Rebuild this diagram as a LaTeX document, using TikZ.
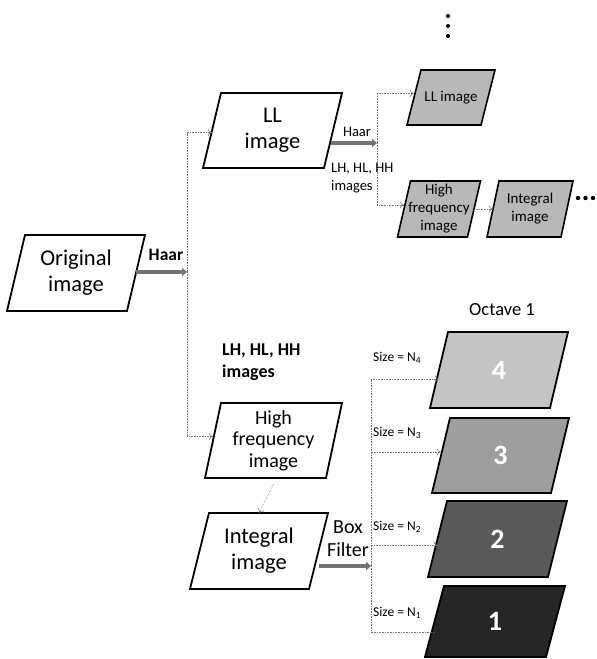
\documentclass[tikz,border=0pt]{standalone}
\usepackage{fontspec}
\setmainfont{Carlito}
\usetikzlibrary{arrows.meta}
% #1 outline options, #2 text options, #3 name, #4 x, #5 y, #6 total width, #7 height, #8 slant, #9 text
\newcommand{\pbox}[9]{%
  \path[pline,#1] ({#4-#6/2+#8},{#5-#7/2}) -- ({#4+#6/2},{#5-#7/2})
     -- ({#4+#6/2-#8},{#5+#7/2}) -- ({#4-#6/2},{#5+#7/2}) -- cycle;
  \node[ptext,minimum width={(#6-#8)*1pt},minimum height={#7*1pt},#2] (#3) at (#4,#5) {#9};
}
\begin{document}
\begin{tikzpicture}[x=1pt,y=-1pt,
  pline/.style={draw=black, line width=1.8pt, line join=miter},
  ptext/.style={rectangle, inner sep=0pt, align=center, font=\fontsize{22.5}{26}\selectfont},
  sline/.style={line width=1.6pt, fill=black!28},
  stext/.style={font=\fontsize{15}{18}\selectfont},
  otext/.style={text=white, font=\bfseries\fontsize{28}{30}\selectfont},
  conn/.style={draw=black!55, line width=0.6pt, densely dotted, -{To[length=4pt,width=7pt]}},
  connline/.style={draw=black!55, line width=0.6pt, densely dotted},
  thickarr/.style={draw=black!55, line width=4.5pt, -{Triangle[length=5pt,width=8pt]}},
  lbl/.style={inner sep=0pt, align=left, anchor=west},
  sizelbl/.style={inner sep=0pt, anchor=west, font=\fontsize{13.5}{15}\selectfont}
]
\useasboundingbox (0,0) rectangle (597,659);

% big parallelograms
\pbox{}{}{orig}{76}{273}{138}{76}{18}{Original\\image}
\pbox{}{}{ll}{272.5}{130.5}{139}{75}{18}{LL\\image}
\pbox{}{font=\fontsize{20}{21.5}\selectfont}{hf}{273.5}{440.5}{137}{75}{16}{High\\frequency\\image}
\pbox{}{}{int}{259}{551}{138}{76}{19}{Integral\\image}

% small parallelograms
\pbox{sline}{stext}{lls}{451}{97.5}{88}{55}{14}{LL image}
\pbox{sline}{stext}{hfs}{439}{209}{83}{56}{13}{High\\frequency\\image}
\pbox{sline}{stext}{ints}{530}{209}{86}{56}{12}{Integral\\image}

% octaves
\pbox{fill=black!23}{otext}{o4}{499}{370}{138}{76}{18}{4}
\pbox{fill=black!38}{otext}{o3}{500.5}{455.5}{137}{75}{18}{3}
\pbox{fill=black!65}{otext}{o2}{497.5}{539}{139}{76}{19}{2}
\pbox{fill=black!85}{otext}{o1}{495}{621.5}{140}{71}{19}{1}

% junctions
\coordinate (j1) at (187,272);
\coordinate (j2) at (377,143);
\coordinate (j3) at (371,566);

% connectors
\draw[thickarr] (orig.east |- j1) -- (j1);
\draw[conn] (j1) |- ([yshift=-2pt]ll.west);
\draw[conn] (j1) |- ([yshift=4pt]hf.west);

\draw[thickarr] ([xshift=-2pt]ll.east |- j2) -- (j2);
\draw[conn] (j2) |- ([yshift=4pt]lls.west);
\draw[conn] (j2) |- ([yshift=4pt]hfs.west);
\draw[conn] (hfs) -- (ints);

\draw[conn] ([yshift=-6pt]hf.south) -- (int.north);

\draw[thickarr] (int.east |- j3) -- (j3);
\draw[conn] (j3) |- ([yshift=-9pt]o4.west);
\draw[conn] (j3) |- ([yshift=3.5pt]o3.west);
\draw[conn] (j3) |- ([yshift=-6pt]o2.west);
\draw[connline] (j3) |- ([yshift=-10.5pt]o1.west);

% dots
\fill (578,198) circle (2.2);
\fill (585.5,198) circle (2.2);
\fill (593,198) circle (2.2);
\fill (448,16) circle (2);
\fill (448,26) circle (2);
\fill (448,36) circle (2);

% labels
\node[font=\bfseries\fontsize{17.5}{19}\selectfont, inner sep=0pt] (haar1) at (166,255) {Haar};
\node[font=\fontsize{14.5}{16}\selectfont, inner sep=0pt] (haar2) at (357,132) {Haar};
\node[lbl, font=\fontsize{14.5}{18.5}\selectfont] (lh2) at (331,178) {LH, HL, HH\\images};
\node[lbl, font=\bfseries\fontsize{18}{22}\selectfont] (lh1) at (222,362) {LH, HL, HH\\images};
\node[font=\fontsize{20}{23}\selectfont, align=center, inner sep=0pt] (box) at (348,539) {Box\\Filter};
\node[font=\fontsize{18.5}{20}\selectfont, inner sep=0pt] (oct) at (502,310) {Octave 1};
\node[sizelbl] (s4) at (373,358) {Size = N\textsubscript{4}};
\node[sizelbl] (s3) at (373,433) {Size = N\textsubscript{3}};
\node[sizelbl] (s2) at (373,527) {Size = N\textsubscript{2}};
\node[sizelbl] (s1) at (373,613) {Size = N\textsubscript{1}};
\end{tikzpicture}
\end{document}
